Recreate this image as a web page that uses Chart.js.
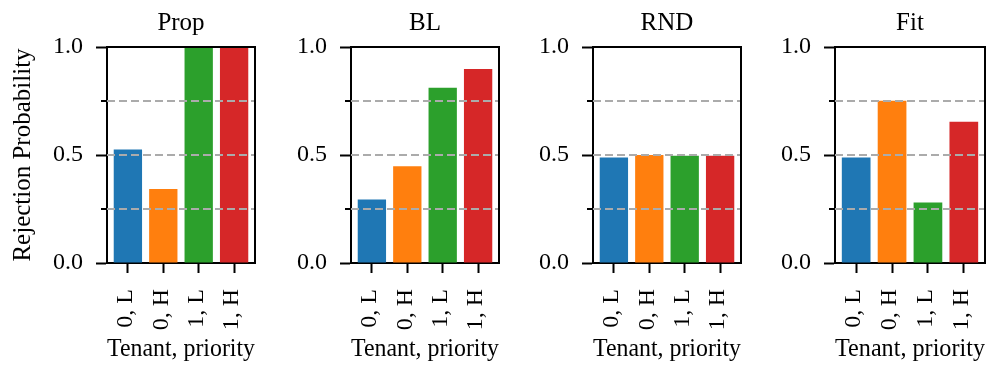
<!DOCTYPE html>
<html>
<head>
<meta charset="utf-8">
<script src="https://cdn.jsdelivr.net/npm/chart.js@4"></script>
<style>
  html, body { margin: 0; padding: 0; background: #fff; }
  body { width: 991px; height: 367px; position: relative; overflow: hidden; }
  canvas { position: absolute; top: 0; }
</style>
</head>
<body>
<canvas id="c0"></canvas>
<canvas id="c1"></canvas>
<canvas id="c2"></canvas>
<canvas id="c3"></canvas>
<script>
// ---- DATA ----
const categories = ["0, L", "0, H", "1, L", "1, H"];
const panelTitles = ["Prop", "BL", "RND", "Fit"];
const propValues = [0.525, 0.343, 0.995, 1.0];
const blValues = [0.294, 0.448, 0.811, 0.898];
const rndValues = [0.488, 0.500, 0.497, 0.497];
const fitValues = [0.488, 0.751, 0.280, 0.654];
const majorTicks = [0, 0.5, 1.0];
const minorTicks = [0.25, 0.75];
const gridValues = [0.25, 0.5, 0.75];

const barColors = ["#1f77b4", "#ff7f0e", "#2ca02c", "#d62728"];
const panelValues = [propValues, blValues, rndValues, fitValues];

// canvas left edge and plot area edges, in page pixels
const layoutBoxes = [
  { left: 0,   areaLeft: 107, areaRight: 255 },
  { left: 261, areaLeft: 351, areaRight: 499 },
  { left: 503, areaLeft: 593, areaRight: 741 },
  { left: 745, areaLeft: 835, areaRight: 985 }
];
const H = 367;
const AREA_BOTTOM = 263;
const RIGHT_PAD = 5;

Chart.defaults.font.family = "'Liberation Serif', 'DejaVu Serif', serif";
Chart.defaults.font.size = 24;
Chart.defaults.color = "#000";

// dashed grid on top of the bars, minor ticks and full frame
const framePlugin = {
  id: "frame",
  afterDatasetsDraw(chart) {
    const { ctx, chartArea: a, scales: { y } } = chart;
    ctx.save();
    ctx.strokeStyle = "#ababab";
    ctx.lineWidth = 2;
    ctx.setLineDash([8, 4]);
    gridValues.forEach(v => {
      const py = Math.round(y.getPixelForValue(v));
      ctx.beginPath();
      ctx.moveTo(a.left, py);
      ctx.lineTo(a.right, py);
      ctx.stroke();
    });
    ctx.setLineDash([]);
    ctx.strokeStyle = "#000";
    minorTicks.forEach(v => {
      const py = Math.round(y.getPixelForValue(v));
      ctx.beginPath();
      ctx.moveTo(a.left - 6, py);
      ctx.lineTo(a.left, py);
      ctx.stroke();
    });
    ctx.beginPath();
    ctx.moveTo(a.left - 1, a.top);
    ctx.lineTo(a.right, a.top);
    ctx.lineTo(a.right, a.bottom + 1);
    ctx.stroke();
    ctx.restore();
  }
};

panelTitles.forEach((title, p) => {
  const box = layoutBoxes[p];
  const canvas = document.getElementById("c" + p);
  const width = box.areaRight + RIGHT_PAD - box.left;
  canvas.width = width;
  canvas.height = H;
  canvas.style.left = box.left + "px";
  canvas.style.width = width + "px";
  canvas.style.height = H + "px";

  new Chart(canvas, {
    type: "bar",
    data: {
      datasets: [{
        data: panelValues[p].map((v, i) => ({ x: i, y: v })),
        backgroundColor: barColors,
        borderWidth: 0,
        barPercentage: 0.8,
        categoryPercentage: 1.0
      }]
    },
    options: {
      responsive: false,
      animation: false,
      devicePixelRatio: 1,
      layout: { padding: { left: 0, right: RIGHT_PAD, top: 0, bottom: 0 } },
      plugins: {
        legend: { display: false },
        tooltip: { enabled: false },
        title: {
          display: true,
          text: title,
          fullSize: false,
          color: "#000",
          font: { size: 25, weight: "normal" },
          padding: { top: 8, bottom: 9 }
        }
      },
      scales: {
        x: {
          type: "linear",
          min: -0.59,
          max: 3.59,
          offset: false,
          afterFit: s => {
            s.height = H - AREA_BOTTOM;
            s.paddingLeft = 0;
            s.paddingRight = 0;
          },
          afterBuildTicks: s => { s.ticks = categories.map((c, i) => ({ value: i })); },
          grid: { offset: false, drawOnChartArea: false, drawTicks: true, tickLength: 10, tickWidth: 2, tickColor: "#000" },
          border: { display: true, color: "#000", width: 2 },
          ticks: {
            autoSkip: false,
            minRotation: 90,
            maxRotation: 90,
            padding: 16,
            labelOffset: -2,
            color: "#000",
            callback: v => categories[v]
          },
          title: {
            display: true,
            text: "Tenant, priority",
            color: "#000",
            font: { size: 25 },
            padding: { top: 0, bottom: 3 }
          }
        },
        y: {
          min: 0,
          max: 1,
          afterFit: s => {
            s.width = box.areaLeft - box.left;
            s.paddingTop = 0;
            s.paddingBottom = 0;
          },
          afterBuildTicks: s => { s.ticks = majorTicks.map(v => ({ value: v })); },
          grid: { drawOnChartArea: false, drawTicks: true, tickLength: 11, tickWidth: 2, tickColor: "#000" },
          border: { display: true, color: "#000", width: 2 },
          ticks: {
            padding: 13,
            color: "#000",
            callback: v => Number(v).toFixed(1)
          },
          title: {
            display: p === 0,
            text: "Rejection Probability",
            color: "#000",
            font: { size: 25 },
            padding: { top: 8, bottom: 0 }
          }
        }
      }
    },
    plugins: [framePlugin]
  });
});
</script>
</body>
</html>
